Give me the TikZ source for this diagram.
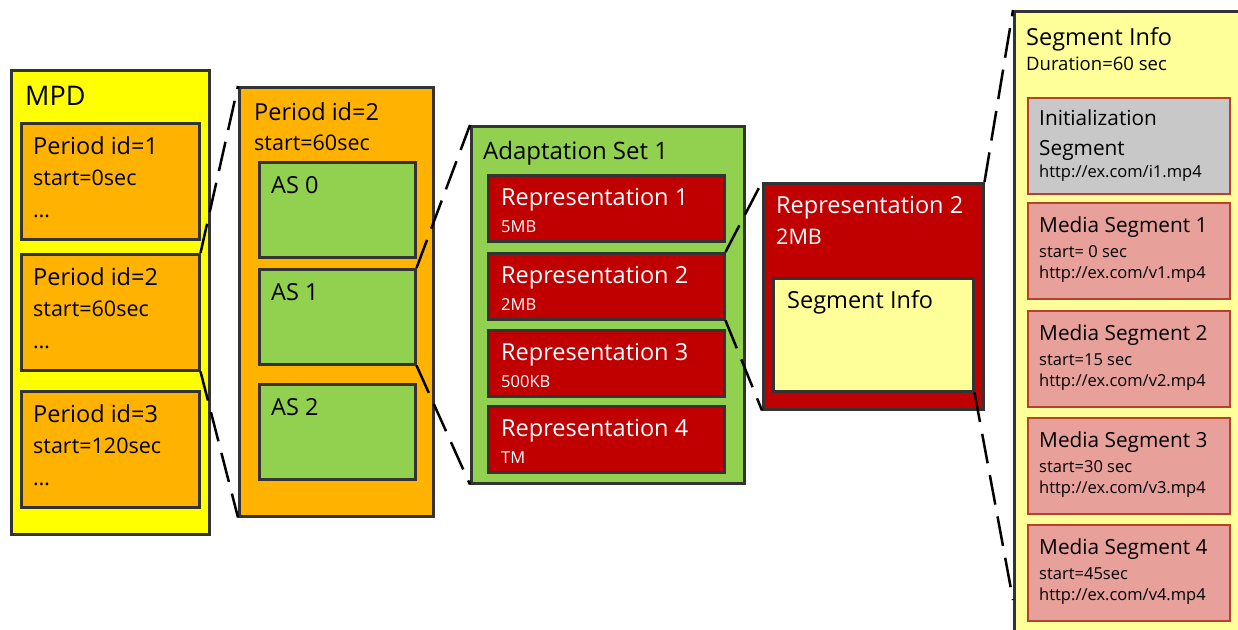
\documentclass[tikz,border=0pt]{standalone}
\usepackage{fontspec}
\setmainfont{Open Sans}
\definecolor{mpdyellow}{HTML}{FFFF00}
\definecolor{periodorange}{HTML}{FFB300}
\definecolor{asgreen}{HTML}{92D050}
\definecolor{repred}{HTML}{C00000}
\definecolor{infoyellow}{HTML}{FFFF99}
\definecolor{seggrey}{HTML}{C8C8C8}
\definecolor{segsalmon}{HTML}{E8A09A}
\definecolor{segborder}{HTML}{B8402E}
\definecolor{boxline}{HTML}{333333}
\begin{document}
\begin{tikzpicture}[
    x=1pt, y=-1pt,
    box/.style={draw=boxline, line width=2.5pt, anchor=north west, inner sep=0pt},
    segbox/.style={draw=segborder, line width=2pt, anchor=north west, inner sep=0pt},
    head/.style={anchor=base west, inner sep=0pt, font=\fontsize{23.5}{28}\selectfont},
    sub/.style={anchor=base west, inner sep=0pt, font=\fontsize{21.5}{25}\selectfont},
    tiny/.style={anchor=base west, inner sep=0pt, font=\fontsize{16.5}{19}\selectfont},
    zoomline/.style={draw=black, line width=2.5pt, dash pattern=on 30pt off 12pt}
]
    \clip (0,0) rectangle (1238,629);

    % MPD
    \node[box, fill=mpdyellow, minimum width=198pt, minimum height=464pt] (mpd) at (10,69) {};
    \node[head, font=\fontsize{27}{32}\selectfont] (mpdtitle) at (25,105) {MPD};
    % Periods
    \foreach \i/\y/\s in {1/122/0sec, 2/253/60sec, 3/390/120sec} {
        \node[box, fill=periodorange, minimum width=178pt, minimum height=116pt] (period\i) at (20,\y) {};
        \node[head] (ptitle\i) at (33,\y+32) {Period id=\i};
        \node[sub] (pstart\i) at (33,\y+63) {start=\s};
        \node[sub] (pdots\i) at (33,\y+95) {\dots};
    }

    % Period id=2
    \node[box, fill=periodorange, minimum width=194pt, minimum height=429pt] (per2) at (238,86) {};
    \node[head] (per2title) at (254,120) {Period id=2};
    \node[sub] (per2start) at (254,150) {start=60sec};
    % Adaptation sets
    \foreach \i/\y in {0/161, 1/268, 2/383} {
        \node[box, fill=asgreen, minimum width=156pt, minimum height=95pt] (as\i) at (258,\y) {};
        \node[head] (astitle\i) at (271,\y+32) {AS \i};
    }

    % Adaptation Set 1
    \node[box, fill=asgreen, minimum width=273pt, minimum height=357pt] (aset) at (470,125) {};
    \node[head, font=\fontsize{24}{28}\selectfont] (asettitle) at (483,159) {Adaptation Set 1};
    % Representations
    \foreach \i/\y/\r in {1/174/5MB, 2/252/2MB, 3/329/500KB, 4/405/TM} {
        \node[box, fill=repred, minimum width=236pt, minimum height=66pt] (rep\i) at (487,\y) {};
        \node[head, text=white] (reptitle\i) at (501,\y+31) {Representation \i};
        \node[tiny, text=white] (reprate\i) at (501,\y+58) {\r};
    }

    % Representation 2
    \node[box, fill=repred, minimum width=220pt, minimum height=226pt] (repbig) at (762,182) {};
    \node[head, text=white] (repbigtitle) at (776,213) {Representation 2};
    \node[head, text=white, font=\fontsize{21.5}{25}\selectfont] (repbigrate) at (776,244) {2MB};
    \node[box, fill=infoyellow, minimum width=200pt, minimum height=113pt] (info) at (772,277) {};
    \node[head] (infotitle) at (787,308) {Segment Info};

    % Segment Info
    \node[box, fill=infoyellow, minimum width=260pt, minimum height=660pt] (seginfo) at (1013,10) {};
    \node[head] (seginfotitle) at (1026,45) {Segment Info};
    \node[tiny, font=\fontsize{18.5}{22}\selectfont] (seginfodur) at (1026,70) {Duration=60 sec};
    \coordinate (segend) at (1013,600);
    % Initialization segment
    \node[segbox, fill=seggrey, minimum width=202pt, minimum height=96pt] (initseg) at (1027,97) {};
    \node[head, font=\fontsize{20.8}{25}\selectfont] (inittitle) at (1039,125) {Initialization};
    \node[head, font=\fontsize{20.8}{25}\selectfont] (inittitleb) at (1039,155) {Segment};
    \node[tiny] (initurl) at (1039,177) {http://ex.com/i1.mp4};
    % Media segments
    \foreach \i/\y/\s in {1/202/start= 0 sec, 2/310/start=15 sec, 3/417/start=30 sec, 4/524/start=45sec} {
        \node[segbox, fill=segsalmon, minimum width=202pt, minimum height=96pt] (mseg\i) at (1027,\y) {};
        \node[head, font=\fontsize{20.8}{25}\selectfont] (msegtitle\i) at (1039,\y+30) {Media Segment \i};
        \node[tiny] (msegstart\i) at (1039,\y+55) {\s};
        \node[tiny] (msegurl\i) at (1039,\y+76) {http://ex.com/v\i.mp4};
    }

    % Zoom lines
    \draw[zoomline] (period2.north east) -- (per2.north west);
    \draw[zoomline] (period2.south east) -- (per2.south west);
    \draw[zoomline] (as1.north east) -- (aset.north west);
    \draw[zoomline] (as1.south east) -- (aset.south west);
    \draw[zoomline] (rep2.north east) -- (repbig.north west);
    \draw[zoomline] (rep2.south east) -- (repbig.south west);
    \draw[zoomline] (repbig.north east) -- (seginfo.north west);
    \draw[zoomline] (info.south east) -- (segend);
\end{tikzpicture}
\end{document}
